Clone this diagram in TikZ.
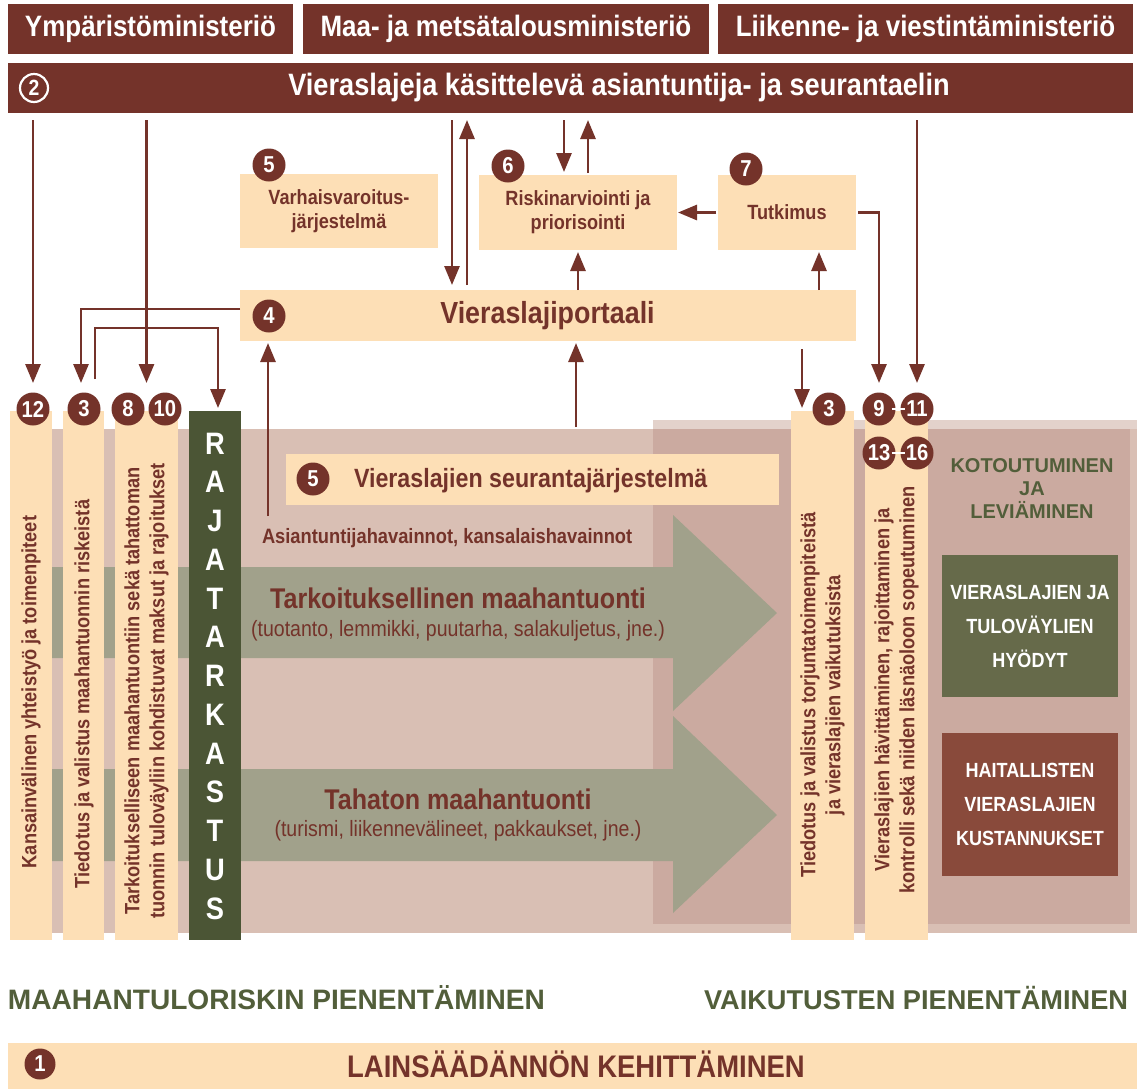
\documentclass[tikz,border=0pt]{standalone}
\usepackage{fontspec}
\setmainfont{Liberation Sans}[FakeStretch=0.88]
\newfontfamily\widefont{Liberation Sans}
\usetikzlibrary{arrows.meta}
\definecolor{brn}{HTML}{74332A}
\definecolor{tan}{HTML}{FDDFB6}
\definecolor{rajac}{HTML}{4B5535}
\definecolor{greenbox}{HTML}{666A4A}
\definecolor{brownbox}{HTML}{894A3B}
\definecolor{greentxt}{HTML}{525E3A}
\definecolor{arrc}{HTML}{A1A18B}
\definecolor{bandc}{HTML}{D9BFB4}
\definecolor{darkc}{HTML}{CBAAA0}
\definecolor{lightc}{HTML}{E3D2CB}
\newcommand\myfs[2]{\fontsize{#1}{#2}\selectfont}
\begin{document}
\begin{tikzpicture}[x=1pt,y=-1pt,
 every node/.style={inner sep=0pt, outer sep=0pt},
 box/.style={fill=tan, anchor=north west},
 hdr/.style={fill=brn, anchor=north west, text=white, font=\myfs{29.5}{32}\bfseries},
 numc/.style={circle, fill=brn, text=white, minimum size=33pt, font=\myfs{23}{23}\bfseries},
 arr/.style={draw=brn, line width=2.8pt, -{Triangle[length=19pt,width=15pt]}},
 btxt/.style={text=brn, font=\myfs{20.6}{24}\bfseries, align=center},
 coltxt/.style={text=brn, font=\myfs{20.7}{25}\bfseries, align=center, rotate=90},
 whitedash/.style={draw=white, line width=2.5pt}
]
\useasboundingbox[fill=white] (0,0) rectangle (1137,1088);

% header
\node[hdr, minimum width=285pt, minimum height=50pt] (min1) at (8,4) {Ympäristöministeriö};
\node[hdr, minimum width=406pt, minimum height=50pt] (min2) at (303,4) {Maa- ja metsätalousministeriö};
\node[hdr, minimum width=415pt, minimum height=50pt] (min3) at (718,4) {Liikenne- ja viestintäministeriö};
\node[fill=brn, anchor=north west, minimum width=1125pt, minimum height=50pt] (bar) at (8,63) {};
\node[text=white, font=\myfs{30.9}{33}\bfseries] (bartxt) at (619,88) {Vieraslajeja käsittelevä asiantuntija- ja seurantaelin};
\node[circle, draw=white, line width=2.2pt, fill=brn, text=white, minimum size=28pt, font=\myfs{22}{22}\bfseries] (c2) at (34,88) {2};

% backgrounds
\fill[bandc] (10,429) rectangle (1137,933);
\fill[lightc] (653,420) rectangle (1137,429);
\fill[darkc] (653,429) rectangle (1130,924);
\fill[arrc] (10,567) -- (673,567) -- (673,515) -- (777,613) -- (673,711) -- (673,658) -- (10,658) -- cycle;
\fill[arrc] (10,769) -- (673,769) -- (673,716) -- (777,815) -- (673,913) -- (673,861) -- (10,861) -- cycle;

% upper boxes
\node[box, btxt, minimum width=198pt, minimum height=74pt] (varh) at (240,174) {Varhaisvaroitus-\\järjestelmä};
\node[box, btxt, minimum width=198pt, minimum height=75pt] (risk) at (479,175) {Riskinarviointi ja\\priorisointi};
\node[box, btxt, minimum width=138pt, minimum height=75pt] (tutk) at (718,175) {Tutkimus};
\node[box, minimum width=616pt, minimum height=51pt] (portal) at (240,290) {};
\node[text=brn, font=\myfs{30.5}{32}\bfseries] (portaltxt) at (547.5,316) {Vieraslajiportaali};
\node[numc] (c5a) at (269,165) {5};
\node[numc] (c6) at (508,166) {6};
\node[numc] (c7) at (746,169) {7};
\node[numc] (c4) at (269,316) {4};

% columns
\node[box, minimum width=42pt, minimum height=529pt] (col12) at (10,411) {};
\node[box, minimum width=41pt, minimum height=529pt] (col3L) at (63,411) {};
\node[box, minimum width=63pt, minimum height=529pt] (col810) at (115,411) {};
\node[fill=rajac, anchor=north west, minimum width=52pt, minimum height=529pt] (raja) at (189,411) {};
\node[box, minimum width=63pt, minimum height=529pt] (col3R) at (791,411) {};
\node[box, minimum width=63pt, minimum height=529pt] (col911) at (865,411) {};

\node[coltxt] (t12) at (31,692) {Kansainvälinen yhteistyö ja toimenpiteet};
\node[coltxt] (t3L) at (84,694) {Tiedotus ja valistus maahantuonnin riskeistä};
\node[coltxt] (t810) at (146.5,691) {Tarkoitukselliseen maahantuontiin sekä tahattoman\\tuonnin tuloväyliin kohdistuvat maksut ja rajoitukset};
\node[coltxt] (t3R) at (822.5,695) {Tiedotus ja valistus torjuntatoimenpiteistä\\ja vieraslajien vaikutuksista};
\node[coltxt] (t911) at (896.5,690) {Vieraslajien hävittäminen, rajoittaminen ja\\kontrolli sekä niiden läsnäoloon sopeutuminen};
\node[text=white, font=\myfs{31}{38.75}\bfseries, align=center] (rajat) at (215,676) {R\\A\\J\\A\\T\\A\\R\\K\\A\\S\\T\\U\\S};

% monitoring
\node[box, minimum width=493pt, minimum height=51pt] (seur) at (286,454) {};
\node[numc] (c5b) at (313,479) {5};
\node[anchor=west, text=brn, font=\myfs{26.4}{30}\bfseries] (seurtxt) at (354,481) {Vieraslajien seurantajärjestelmä};
\node[anchor=west, text=brn, font=\myfs{20.8}{24}\bfseries] (obs) at (262,538) {Asiantuntijahavainnot, kansalaishavainnot};

% arrow texts
\node[text=brn, font=\myfs{28.5}{30}\bfseries] (tark) at (458,598) {Tarkoituksellinen maahantuonti};
\node[text=brn, font=\myfs{22.2}{24}] (tarksub) at (458,631) {(tuotanto, lemmikki, puutarha, salakuljetus, jne.)};
\node[text=brn, font=\myfs{28.5}{30}\bfseries] (taha) at (458,799) {Tahaton maahantuonti};
\node[text=brn, font=\myfs{22.2}{24}] (tahasub) at (458,831) {(turismi, liikennevälineet, pakkaukset, jne.)};

% right side
\node[text=greentxt, font=\widefont\myfs{20}{23}\bfseries, align=center] (kot) at (1032,489) {KOTOUTUMINEN\\JA\\LEVIÄMINEN};
\node[fill=greenbox, anchor=north west, minimum width=176pt, minimum height=142pt, text=white, font=\myfs{20.5}{34}\bfseries, align=center] (benef) at (942,555) {VIERASLAJIEN JA\\TULOVÄYLIEN\\HYÖDYT};
\node[fill=brownbox, anchor=north west, minimum width=176pt, minimum height=143pt, text=white, font=\myfs{20.5}{34}\bfseries, align=center] (cost) at (942,733) {HAITALLISTEN\\VIERASLAJIEN\\KUSTANNUKSET};

% column circles
\node[numc] (c12) at (33,409) {12};
\node[numc] (c3L) at (84,409) {3};
\node[numc] (c8) at (128,409) {8};
\node[numc] (c10) at (165,409) {10};
\node[numc] (c3R) at (829,409) {3};
\node[numc] (c9) at (879,409) {9};
\node[numc] (c11) at (917,409) {11};
\node[numc] (c13) at (879,453) {13};
\node[numc] (c16) at (917,453) {16};
\draw[whitedash] ([xshift=-4pt]c9.east) -- ([xshift=4pt]c11.west);
\draw[whitedash] ([xshift=-4pt]c13.east) -- ([xshift=4pt]c16.west);

% connectors
\draw[arr, shorten <=7pt, shorten >=9.5pt] (bar.south -| c12) -- (c12.north);
\draw[arr, shorten <=7pt, shorten >=28pt] (bar.south -| col810) -- (col810.north);
\draw[arr, shorten <=7pt, shorten >=9.5pt] (bar.south -| c11) -- (c11.north);
\coordinate (pd) at ([xshift=212pt]portal.north west);
\draw[arr, shorten <=7pt, shorten >=5pt] (bar.south -| pd) -- (pd);
\coordinate (pu) at ([xshift=227pt]portal.north west);
\draw[arr, shorten <=5pt, shorten >=7pt] (pu) -- (bar.south -| pu);
\coordinate (rd) at ([xshift=85pt]risk.north west);
\draw[arr, shorten <=7pt, shorten >=3pt] (bar.south -| rd) -- (rd);
\coordinate (ru) at ([xshift=109pt]risk.north west);
\draw[arr, shorten <=2pt, shorten >=7pt] (ru) -- (bar.south -| ru);
\draw[arr, shorten <=2pt, shorten >=1pt] (tutk.west) -- (risk.east);
\draw[arr, shorten <=2pt, shorten >=9.5pt] (tutk.east) -| (c9.north);
\draw[arr, shorten >=2pt] (portal.north -| risk.south) -- (risk.south);
\coordinate (pt) at ([xshift=101pt]tutk.south west);
\draw[arr, shorten >=2pt] (portal.north -| pt) -- (pt);
\coordinate (bandtop) at (576,427);
\draw[arr, shorten >=2pt] (bandtop) -- (bandtop |- portal.south);
\coordinate (obsline) at (268,516);
\draw[arr, shorten >=2pt] (obsline) -- (obsline |- portal.south);
\coordinate (p3) at ([xshift=11pt]col3R.north west);
\draw[arr, shorten <=8pt, shorten >=3pt] (portal.south -| p3) -- (p3);
\draw[arr, shorten >=9.5pt] ([yshift=6.5pt]portal.west) -| ([xshift=-3pt]c3L.north);
\coordinate (s3) at (95,379);
\draw[arr, shorten >=3pt] (s3) -- ++(0,-51) -| ([xshift=3pt]raja.north);

% bottom
\node[anchor=west, text=greentxt, font=\widefont\myfs{28.1}{32}\bfseries] (maah) at (8,998) {MAAHANTULORISKIN PIENENTÄMINEN};
\node[anchor=west, text=greentxt, font=\widefont\myfs{27.2}{32}\bfseries] (vaik) at (704,998) {VAIKUTUSTEN PIENENTÄMINEN};
\node[fill=tan, anchor=north west, minimum width=1129pt, minimum height=46pt] (law) at (8,1043) {};
\node[numc, minimum size=31pt] (c1) at (40,1064) {1};
\node[text=brn, font=\myfs{31.2}{33}\bfseries] (lawtxt) at (576,1064) {LAINSÄÄDÄNNÖN KEHITTÄMINEN};
\end{tikzpicture}
\end{document}
